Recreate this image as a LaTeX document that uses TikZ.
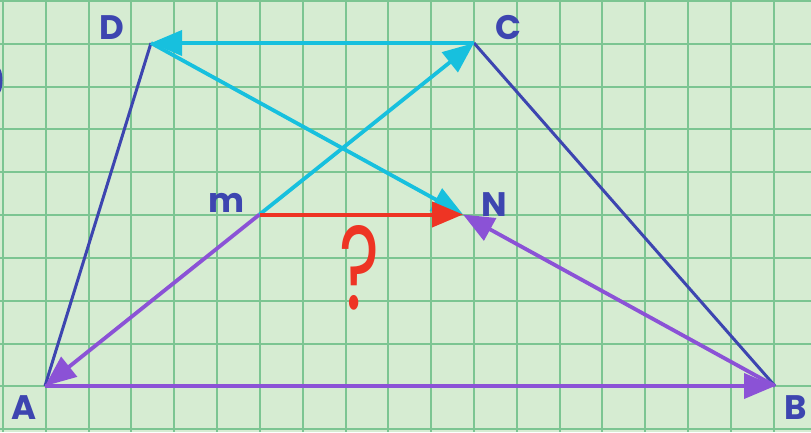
\documentclass[tikz,border=0pt]{standalone}
\usepackage{fontspec}
\setmainfont{Poppins}
\usetikzlibrary{arrows.meta}
\definecolor{bg}{HTML}{D6ECD2}
\definecolor{gridc}{HTML}{7CC592}
\definecolor{dblue}{HTML}{3D45B0}
\definecolor{cyanc}{HTML}{17C0DE}
\definecolor{purp}{HTML}{8B52D6}
\definecolor{redc}{HTML}{EE3424}
\tikzset{
  tip/.style={-{Triangle[length=31pt,width=25pt]}},
  side/.style={draw=dblue,line width=3pt},
  cyanvec/.style={draw=cyanc,line width=3.8pt,tip},
  purpvec/.style={draw=purp,line width=3.8pt,tip},
  redvec/.style={draw=redc,line width=4pt,tip},
  lab/.style={text=dblue,font=\fontsize{34}{34}\selectfont\bfseries,inner sep=0pt},
}
\begin{document}
\begin{tikzpicture}[x=1pt,y=-1pt]
\fill[bg] (0,0) rectangle (811,432);
\useasboundingbox (0,0) rectangle (811,432);
\foreach \k in {0,...,18} {\draw[gridc,line width=2pt] ({3+42.82*\k},0) -- ({3+42.82*\k},432);}
\foreach \k in {0,...,10} {\draw[gridc,line width=2pt] (0,{1+42.82*\k}) -- (811,{1+42.82*\k});}
% stray mark at left edge
\draw[dblue,line width=3pt] (-3,68) arc[start angle=-90,end angle=90,x radius=4,y radius=12.5];
% points
\coordinate (A) at (45,386);
\coordinate (B) at (775,386);
\coordinate (C) at (474,43);
\coordinate (D) at (151,43);
\coordinate (M) at (259.5,214.5);
\coordinate (N) at (463,214.5);
% sides
\draw[side] (A) -- (D);
\draw[side] (C) -- (B);
% vectors
\draw[cyanvec] (C) -- (D);
\draw[cyanvec] (D) -- (N);
\draw[cyanvec] (M) -- (C);
\draw[purpvec] (M) -- (A);
\draw[purpvec] (A) -- (B);
\draw[purpvec] (B) -- (N);
\draw[redvec] (M) -- (N);
% labels
\node[lab] (lD) at (112,28) {D};
\node[lab] (lC) at (508,28) {C};
\node[lab] (lM) at (226,203) {m};
\node[lab] (lN) at (494,205) {N};
\node[lab] (lA) at (24,408) {A};
\node[lab] (lB) at (796,408) {B};
\node[text=redc,font=\fontsize{85}{85}\selectfont,inner sep=0pt] (q) at (360,268) {\scalebox{0.9}[1.4]{?}};
\end{tikzpicture}
\end{document}
